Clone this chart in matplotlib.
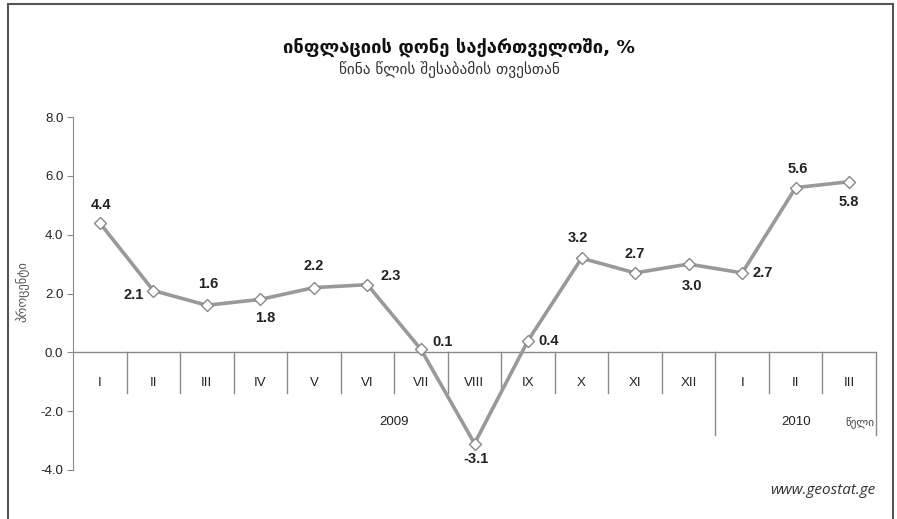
# Inflation in Georgia, y/y, monthly line chart
import matplotlib
matplotlib.use("Agg")
import matplotlib.pyplot as plt
from matplotlib.patches import Rectangle

months = ["I", "II", "III", "IV", "V", "VI", "VII", "VIII", "IX", "X", "XI", "XII",
          "I", "II", "III"]
inflation = [4.4, 2.1, 1.6, 1.8, 2.2, 2.3, 0.1, -3.1, 0.4, 3.2, 2.7, 3.0, 2.7, 5.6, 5.8]
years = ["2009", "2010"]
year_centers = [5.5, 13.0]

# label offsets in pixels (dx, dy) relative to each point
label_offsets = [(1, 18), (-20, -4), (1, 21), (5, -19), (0, 22), (23, 9), (22, 7),
                 (2, -15), (21, 0), (-4, 20), (0, 19), (3, -22), (21, 0), (2, 19), (0, -20)]

W, H = 897, 519
fig = plt.figure(figsize=(W / 100, H / 100), dpi=100)
ax = fig.add_axes([73 / W, 1 - 470 / H, (876 - 73) / W, (470 - 117) / H])

grey = "#8a8a8a"
ax.set_xlim(-0.5, len(months) - 0.5)
ax.set_ylim(-4, 8)
for s in ["top", "right", "bottom"]:
    ax.spines[s].set_visible(False)
ax.spines["left"].set_color(grey)
ax.set_yticks([8, 6, 4, 2, 0, -2, -4])
ax.set_yticklabels(["%.1f" % v for v in [8, 6, 4, 2, 0, -2, -4]],
                   fontsize=9.5, family="Liberation Sans", color="#222222")
ax.tick_params(axis="y", length=4, color=grey, pad=3)
ax.set_xticks([])

# zero line and category separators
ax.axhline(0, color=grey, lw=1, zorder=1)
for i in range(1, len(months) + 1):
    bottom = -2.82 if i in (12, 15) else -1.39
    ax.plot([i - 0.5, i - 0.5], [0, bottom], color=grey, lw=1, clip_on=False, zorder=1)

for i, m in enumerate(months):
    ax.text(i, -1.05, m, ha="center", va="center", fontsize=9.5,
            family="Liberation Sans", color="#222222")
for y, c in zip(years, year_centers):
    ax.text(c, -2.38, y, ha="center", va="center", fontsize=9.5,
            family="Liberation Sans", color="#222222")
ax.text(14.2, -2.38, "წელი", ha="center", va="center", fontsize=8,
        family="DejaVu Sans", color="#444444")

x = list(range(len(months)))
ax.plot(x, inflation, color="#999999", lw=2.6, marker="D", markersize=6.5,
        markerfacecolor="white", markeredgecolor="#888888", markeredgewidth=1,
        zorder=3, clip_on=False)

for xi, v, (dx, dy) in zip(x, inflation, label_offsets):
    ax.annotate("%.1f" % v, (xi, v), xytext=(dx, dy), textcoords="offset pixels",
                ha="center", va="center", fontsize=10.5, fontweight="bold",
                family="Liberation Sans", color="#222222")

fig.text(459 / W, 1 - 47 / H, "ინფლაციის დონე საქართველოში, %", ha="center", va="center",
         fontsize=13.2, fontweight="bold", family=["DejaVu Sans"], color="#111111")
fig.text(449 / W, 1 - 70 / H, "წინა წლის შესაბამის თვესთან", ha="center", va="center",
         fontsize=11, family=["DejaVu Sans"], color="#333333")
fig.text(22 / W, 1 - 292 / H, "პროცენტი", ha="center", va="center", rotation=90,
         fontsize=9, family=["DejaVu Sans"], color="#555555")
fig.text(875 / W, 1 - 491 / H, "www.geostat.ge", ha="right", va="center",
         fontsize=11, style="italic", family="Open Sans", color="#333333")

# outer frame
fig.patches.append(Rectangle((8 / W, -0.01), (893 - 8) / W, 1 - 4 / H + 0.01,
                             transform=fig.transFigure, fill=False,
                             edgecolor="#555555", lw=1.5))

fig.savefig("out.png", dpi=100)
